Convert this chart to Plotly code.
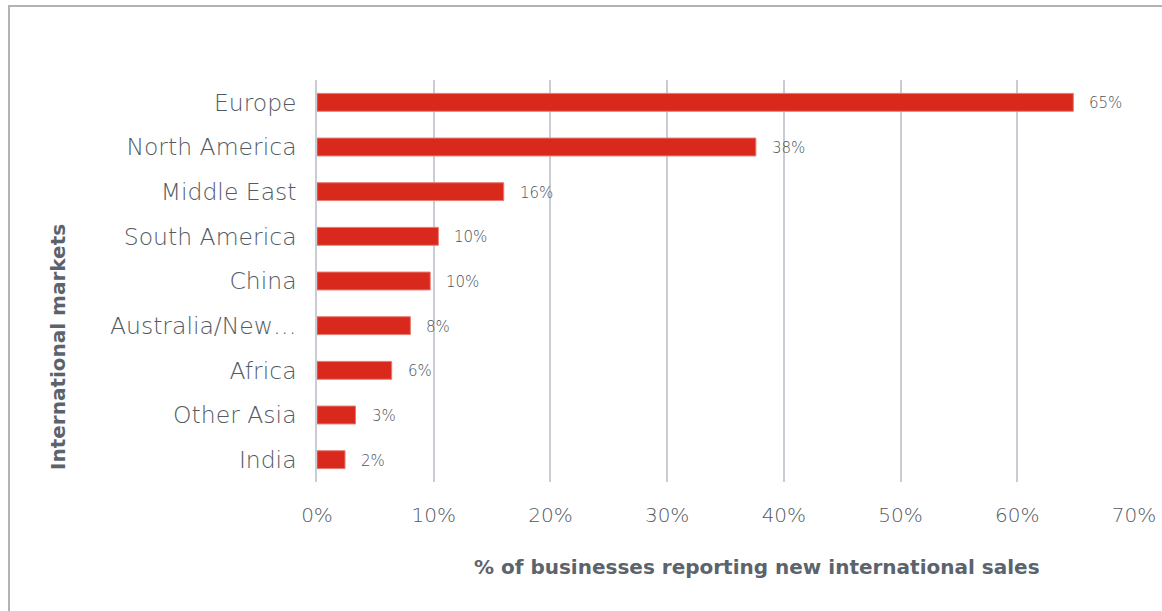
import plotly.graph_objects as go

# Share of businesses reporting new international sales, by market
markets = ["Europe", "North America", "Middle East", "South America", "China",
           "Australia/New…", "Africa", "Other Asia", "India"]
shares = [64.8, 37.6, 16.0, 10.4, 9.7, 8.0, 6.4, 3.3, 2.4]
x_ticks = [0, 10, 20, 30, 40, 50, 60, 70]
x_tick_labels = ["0%", "10%", "20%", "30%", "40%", "50%", "60%", "70%"]

W, H = 1162, 611
L, R, T, B = 317, 28, 80, 129

FONT = "DejaVu Sans"
GREY = "#535a63"
TITLE_GREY = "#5b636c"
BAR = "#d9291c"
LIGHT = dict(family=FONT, weight=300)

fig = go.Figure()
fig.add_trace(go.Bar(
    y=markets, x=shares, orientation="h",
    marker=dict(color=BAR, line=dict(color="#e57a72", width=1)),
    width=0.4,
    hoverinfo="skip",
))

# value labels to the right of each bar
for m, v in zip(markets, shares):
    fig.add_annotation(
        x=v, y=m, xref="x", yref="y", text=f"{v:.0f}%",
        xanchor="left", yanchor="middle", xshift=14, yshift=-1,
        showarrow=False,
        font=dict(**LIGHT, size=15, color="#4c535c"),
    )

pw = W - L - R
ph = H - T - B

def px_x(px):
    return (px - L) / pw

def px_y(py):
    return (H - B - py) / ph

fig.update_layout(
    width=W, height=H,
    margin=dict(l=L, r=R, t=T, b=B, pad=0, autoexpand=False),
    paper_bgcolor="white", plot_bgcolor="white",
    showlegend=False,
    xaxis=dict(
        range=[0, 70], tickvals=x_ticks, ticktext=x_tick_labels,
        showgrid=True, gridcolor="#c9cdd3", gridwidth=1.5,
        zeroline=False, showline=False, ticks="",
        tickfont=dict(**LIGHT, size=20, color=GREY),
        ticklabelstandoff=19,
        fixedrange=True,
    ),
    yaxis=dict(
        autorange="reversed", showgrid=False, zeroline=False,
        showline=True, linecolor="#c9cdd3", linewidth=1.5, ticks="",
        tickfont=dict(**LIGHT, size=23.5, color=GREY),
        ticklabelstandoff=14,
        fixedrange=True,
    ),
    font=dict(family=FONT, color=GREY),
)

# axis titles
fig.add_annotation(
    text="<b>% of businesses reporting new international sales</b>",
    xref="paper", yref="paper", x=px_x(757), y=px_y(567),
    xanchor="center", yanchor="middle", showarrow=False,
    font=dict(family=FONT, size=20, color=TITLE_GREY),
)
fig.add_annotation(
    text="<b>International markets</b>",
    xref="paper", yref="paper", x=px_x(58), y=px_y(347),
    xanchor="center", yanchor="middle", showarrow=False, textangle=-90,
    font=dict(family=FONT, size=20, color=TITLE_GREY),
)

# outer frame around the chart
fig.add_shape(
    type="rect", xref="paper", yref="paper",
    x0=px_x(9), x1=px_x(W + 20), y0=px_y(H + 20), y1=px_y(6),
    line=dict(color="#b3b3b3", width=2), fillcolor="rgba(0,0,0,0)",
    layer="below",
)

fig.write_html("out.html")
